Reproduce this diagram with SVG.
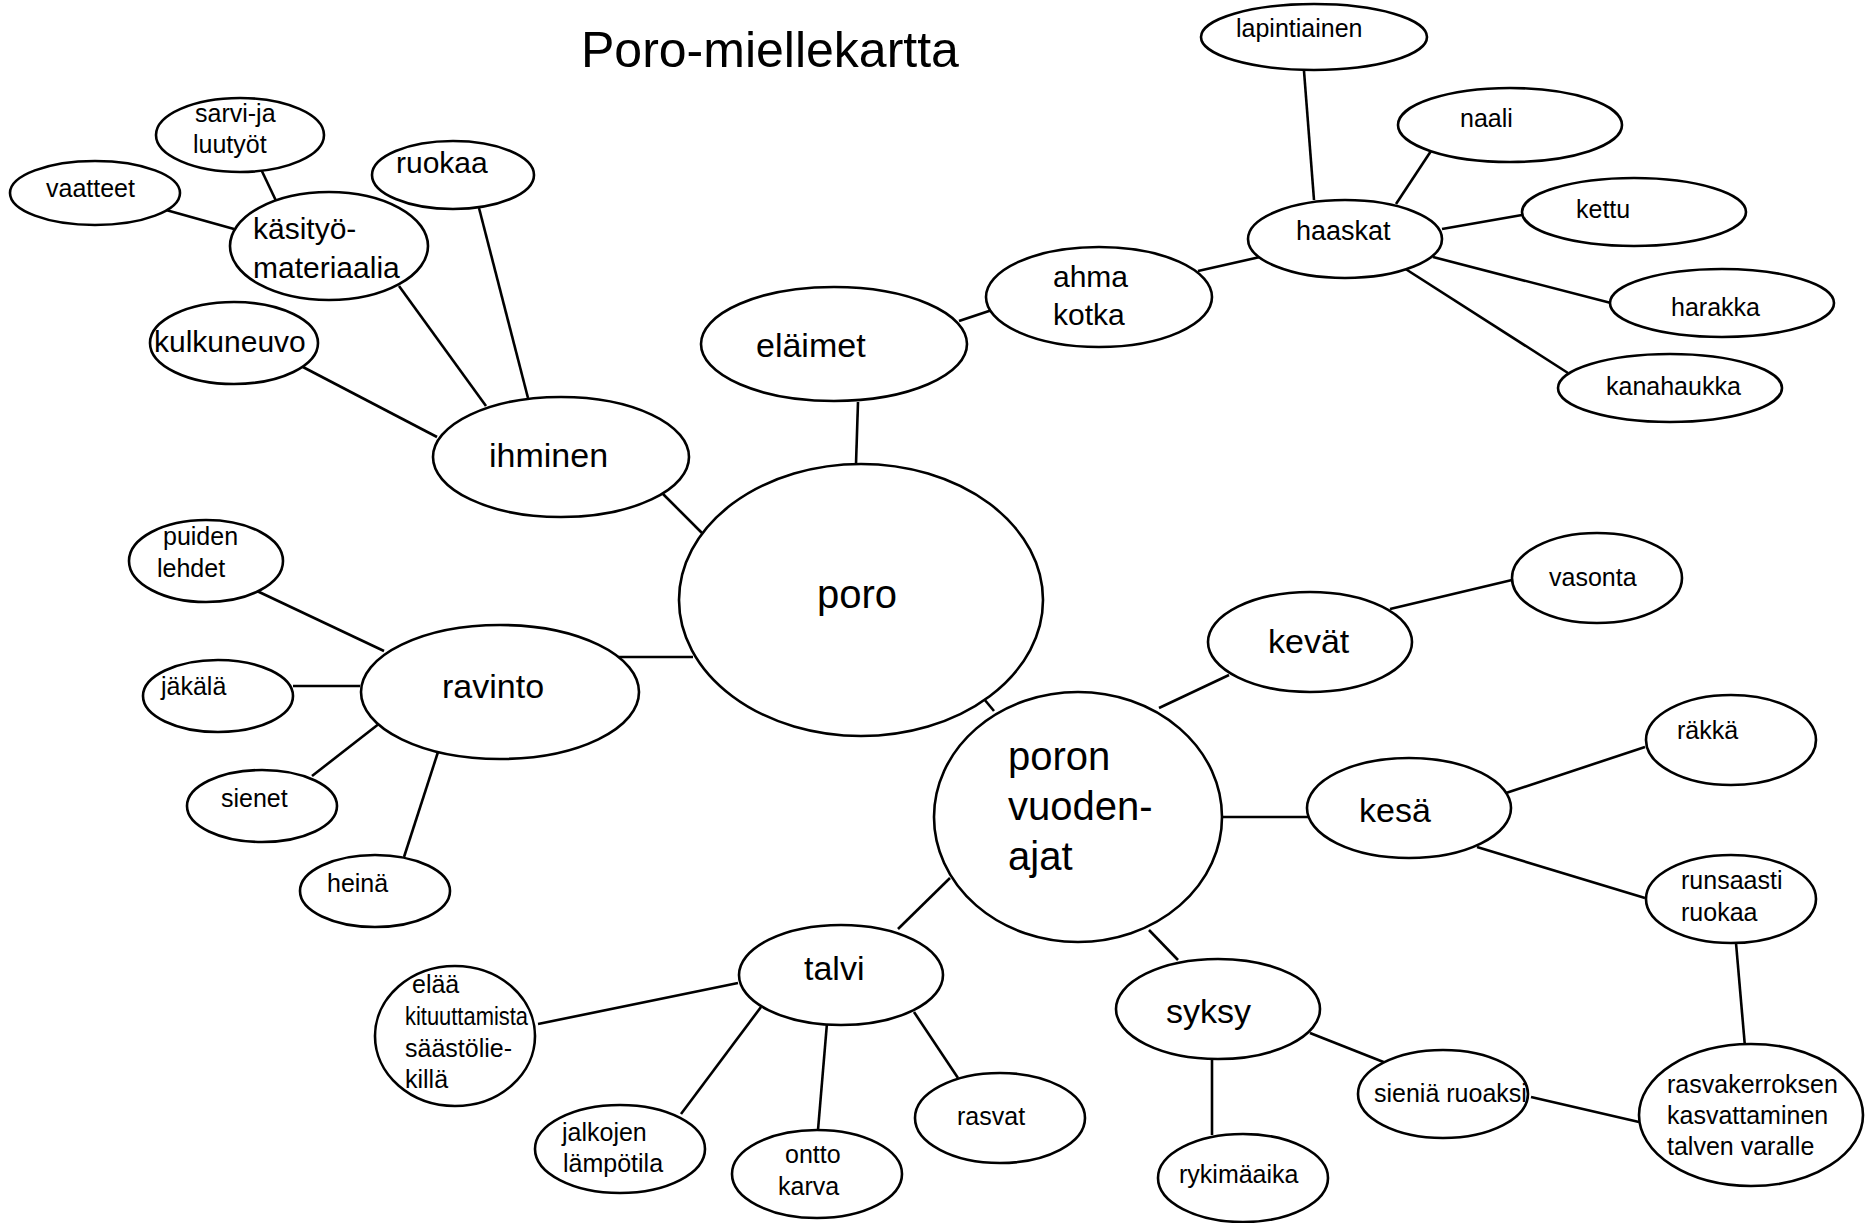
<svg xmlns="http://www.w3.org/2000/svg" width="1870" height="1223" viewBox="0 0 1870 1223">
<style>
  ellipse { fill: #fff; stroke: #000; stroke-width: 2.6; }
  #connectors line { stroke: #000; stroke-width: 2.6; }
  text { font-family: "Liberation Sans", Arial, sans-serif; fill: #000; }
  .s { font-size: 25px; }
  .m { font-size: 30px; }
  .l { font-size: 34px; }
  .xl { font-size: 40px; }
  .t { font-size: 50px; }
</style>
<rect width="1870" height="1223" fill="#fff"/>
<text class="t" x="581" y="67">Poro-miellekartta</text>

<g id="connectors">
  <line x1="259" y1="165" x2="278" y2="205"/>
  <line x1="166" y1="210" x2="234" y2="229"/>
  <line x1="479" y1="208" x2="528" y2="398"/>
  <line x1="399" y1="286" x2="486" y2="406"/>
  <line x1="301" y1="366" x2="437" y2="437"/>
  <line x1="1304" y1="71" x2="1314" y2="200"/>
  <line x1="1198" y1="271" x2="1260" y2="257"/>
  <line x1="959" y1="321" x2="992" y2="310"/>
  <line x1="858" y1="402" x2="856" y2="464"/>
  <line x1="1431" y1="151" x2="1396" y2="204"/>
  <line x1="1522" y1="215" x2="1442" y2="229"/>
  <line x1="1611" y1="303" x2="1433" y2="257"/>
  <line x1="1568" y1="373" x2="1404" y2="268"/>
  <line x1="257" y1="591" x2="384" y2="651"/>
  <line x1="293" y1="686" x2="360" y2="686"/>
  <line x1="312" y1="776" x2="380" y2="723"/>
  <line x1="404" y1="857" x2="438" y2="752"/>
  <line x1="663" y1="494" x2="702" y2="533"/>
  <line x1="618" y1="657" x2="693" y2="657"/>
  <line x1="984" y1="699" x2="994" y2="711"/>
  <line x1="1229" y1="675" x2="1159" y2="708"/>
  <line x1="1222" y1="817" x2="1309" y2="817"/>
  <line x1="950" y1="878" x2="898" y2="929"/>
  <line x1="1390" y1="609" x2="1512" y2="580"/>
  <line x1="1506" y1="793" x2="1645" y2="747"/>
  <line x1="1477" y1="847" x2="1645" y2="898"/>
  <line x1="1736" y1="943" x2="1745" y2="1047"/>
  <line x1="538" y1="1024" x2="738" y2="983"/>
  <line x1="681" y1="1114" x2="761" y2="1007"/>
  <line x1="818" y1="1130" x2="827" y2="1023"/>
  <line x1="958" y1="1078" x2="914" y2="1012"/>
  <line x1="1149" y1="930" x2="1178" y2="960"/>
  <line x1="1310" y1="1033" x2="1386" y2="1063"/>
  <line x1="1212" y1="1059" x2="1212" y2="1135"/>
  <line x1="1531" y1="1097" x2="1639" y2="1122"/>
</g>

<g id="poro"><ellipse cx="861" cy="600" rx="182" ry="136"/><text class="xl" x="817" y="608">poro</text></g>
<g id="ihminen"><ellipse cx="561" cy="457" rx="128" ry="60"/><text class="l" x="489" y="467">ihminen</text></g>
<g id="elaimet"><ellipse cx="834" cy="344" rx="133" ry="57"/><text class="l" x="756" y="357">eläimet</text></g>
<g id="ravinto"><ellipse cx="500" cy="692" rx="139" ry="67"/><text class="l" x="442" y="698">ravinto</text></g>
<g id="vuodenajat"><ellipse cx="1078" cy="817" rx="144" ry="125"/>
  <text class="xl" x="1008" y="770">poron</text><text class="xl" x="1008" y="820">vuoden-</text><text class="xl" x="1008" y="870">ajat</text></g>

<g id="kasityo"><ellipse cx="329" cy="246" rx="99" ry="54"/><text class="m" x="253" y="239">käsityö-</text><text class="m" x="253" y="278">materiaalia</text></g>
<g id="sarvi"><ellipse cx="240" cy="135" rx="84" ry="37"/><text class="s" x="195" y="122">sarvi-ja</text><text class="s" x="193" y="153">luutyöt</text></g>
<g id="vaatteet"><ellipse cx="95" cy="193" rx="85" ry="32"/><text class="s" x="46" y="197">vaatteet</text></g>
<g id="ruokaa"><ellipse cx="453" cy="175" rx="81" ry="34"/><text class="m" x="396" y="173">ruokaa</text></g>
<g id="kulkuneuvo"><ellipse cx="234" cy="343" rx="84" ry="41"/><text class="m" x="154" y="352">kulkuneuvo</text></g>

<g id="ahmakotka"><ellipse cx="1099" cy="297" rx="113" ry="50"/><text class="m" x="1053" y="287">ahma</text><text class="m" x="1053" y="325">kotka</text></g>
<g id="haaskat"><ellipse cx="1345" cy="239" rx="97" ry="39"/><text class="s" x="1296" y="240" style="font-size:27px">haaskat</text></g>
<g id="lapintiainen"><ellipse cx="1314" cy="37" rx="113" ry="33"/><text class="s" x="1236" y="37">lapintiainen</text></g>
<g id="naali"><ellipse cx="1510" cy="125" rx="112" ry="37"/><text class="s" x="1460" y="127">naali</text></g>
<g id="kettu"><ellipse cx="1634" cy="212" rx="112" ry="34"/><text class="s" x="1576" y="218">kettu</text></g>
<g id="harakka"><ellipse cx="1722" cy="303" rx="112" ry="34"/><text class="s" x="1671" y="316">harakka</text></g>
<g id="kanahaukka"><ellipse cx="1670" cy="388" rx="112" ry="34"/><text class="s" x="1606" y="395">kanahaukka</text></g>

<g id="puiden"><ellipse cx="206" cy="561" rx="77" ry="41"/><text class="s" x="163" y="545">puiden</text><text class="s" x="157" y="577">lehdet</text></g>
<g id="jakala"><ellipse cx="218" cy="696" rx="75" ry="36"/><text class="s" x="161" y="695">jäkälä</text></g>
<g id="sienet"><ellipse cx="262" cy="806" rx="75" ry="36"/><text class="s" x="221" y="807">sienet</text></g>
<g id="heina"><ellipse cx="375" cy="891" rx="75" ry="36"/><text class="s" x="327" y="892">heinä</text></g>

<g id="kevat"><ellipse cx="1310" cy="642" rx="102" ry="50"/><text class="l" x="1268" y="653">kevät</text></g>
<g id="vasonta"><ellipse cx="1597" cy="578" rx="85" ry="45"/><text class="s" x="1549" y="586">vasonta</text></g>
<g id="kesa"><ellipse cx="1409" cy="808" rx="102" ry="50"/><text class="l" x="1359" y="822">kesä</text></g>
<g id="rakka"><ellipse cx="1731" cy="740" rx="85" ry="45"/><text class="s" x="1677" y="739">räkkä</text></g>
<g id="runsaasti"><ellipse cx="1731" cy="899" rx="85" ry="44"/><text class="s" x="1681" y="889">runsaasti</text><text class="s" x="1681" y="921">ruokaa</text></g>

<g id="talvi"><ellipse cx="841" cy="975" rx="102" ry="50"/><text class="l" x="804" y="980">talvi</text></g>
<g id="elaa"><ellipse cx="455" cy="1036" rx="80" ry="70"/>
  <text class="s" x="412" y="993">elää</text>
  <text class="s" x="405" y="1025" textLength="123" lengthAdjust="spacingAndGlyphs">kituuttamista</text>
  <text class="s" x="405" y="1057">säästölie-</text>
  <text class="s" x="405" y="1088">killä</text></g>
<g id="jalkojen"><ellipse cx="620" cy="1149" rx="85" ry="44"/><text class="s" x="562" y="1141">jalkojen</text><text class="s" x="563" y="1172">lämpötila</text></g>
<g id="onttokarva"><ellipse cx="817" cy="1174" rx="85" ry="44"/><text class="s" x="785" y="1163">ontto</text><text class="s" x="778" y="1195">karva</text></g>
<g id="rasvat"><ellipse cx="1000" cy="1118" rx="85" ry="45"/><text class="s" x="957" y="1125">rasvat</text></g>

<g id="syksy"><ellipse cx="1218" cy="1009" rx="102" ry="50"/><text class="l" x="1166" y="1023">syksy</text></g>
<g id="rykimaaika"><ellipse cx="1243" cy="1178" rx="85" ry="44"/><text class="s" x="1179" y="1183">rykimäaika</text></g>
<g id="sienia"><ellipse cx="1443" cy="1094" rx="85" ry="44"/><text class="s" x="1374" y="1102">sieniä ruoaksi</text></g>
<g id="rasvakerros"><ellipse cx="1751" cy="1115" rx="112" ry="71"/>
  <text class="s" x="1667" y="1093">rasvakerroksen</text>
  <text class="s" x="1667" y="1124">kasvattaminen</text>
  <text class="s" x="1667" y="1155">talven varalle</text></g>
</svg>
